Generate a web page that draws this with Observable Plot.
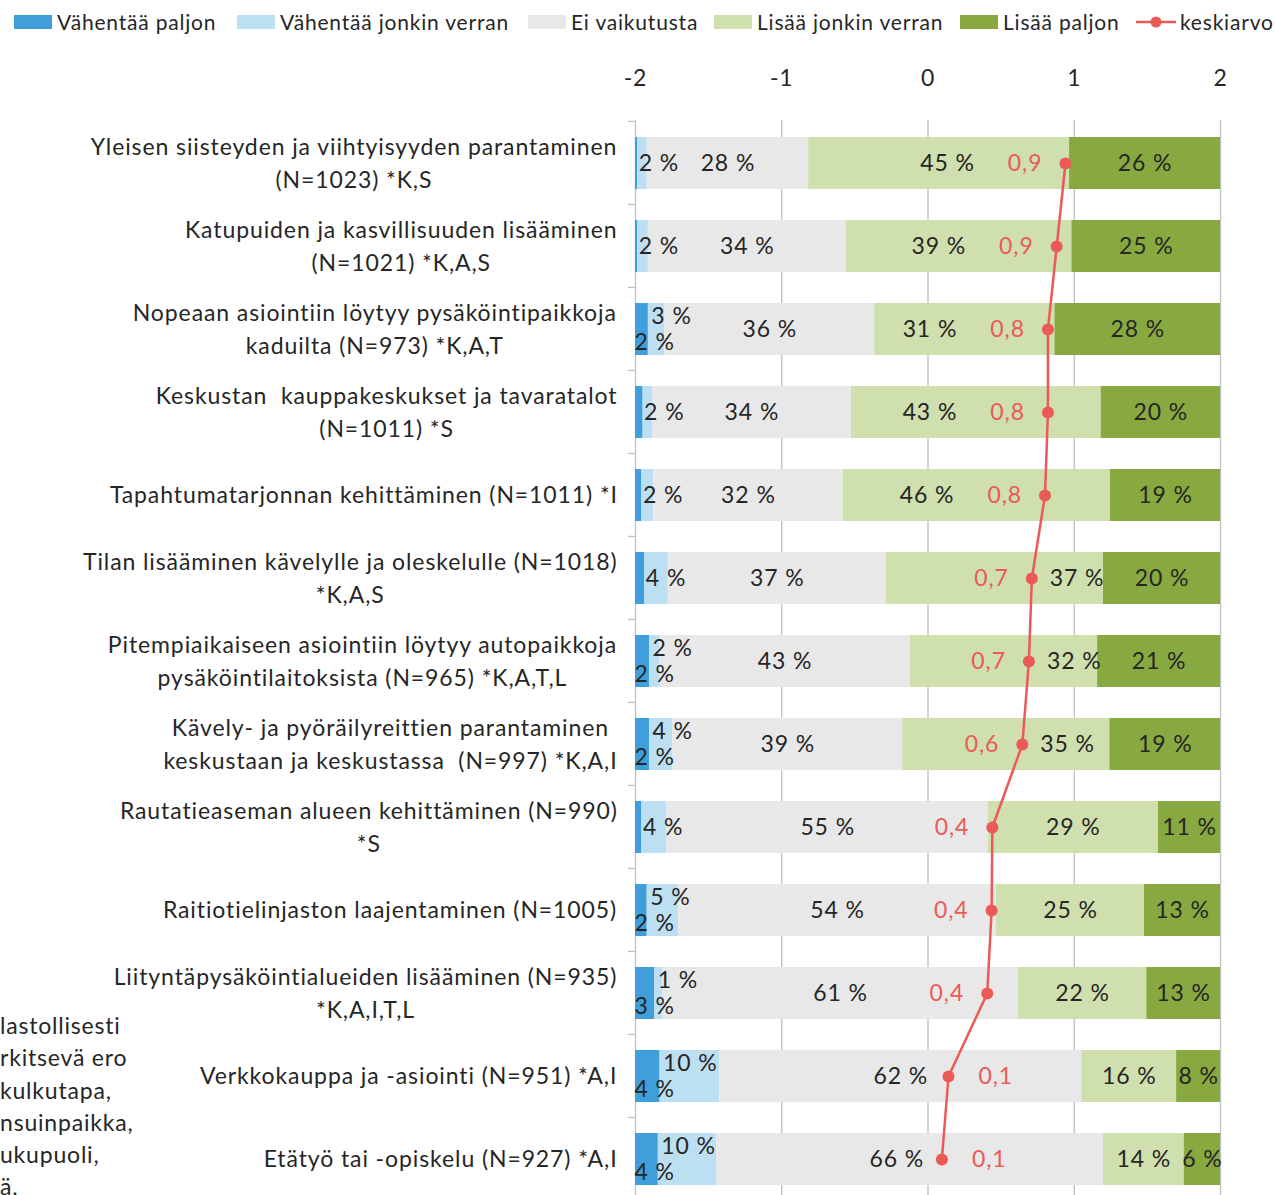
<!DOCTYPE html>
<html><head><meta charset="utf-8">
<script src="https://cdn.jsdelivr.net/npm/d3@7"></script>
<script src="https://cdn.jsdelivr.net/npm/@observablehq/plot@0.6"></script>
<style>
html,body{margin:0;padding:0;background:#fff;overflow:hidden;width:1276px;height:1195px;}
body{font-family:Lato,"Open Sans",sans-serif;color:#262626;position:relative;}
#legend{height:45px;position:relative;}
.item{position:absolute;top:10px;font-size:21px;letter-spacing:0.8px;line-height:24px;white-space:nowrap;display:flex;align-items:center;}
.sw{display:inline-block;width:38px;height:14px;margin-right:5px;}
#chart svg{display:block;}
#side{position:absolute;left:0px;top:1009px;font-size:23px;letter-spacing:0.8px;line-height:32.3px;white-space:nowrap;}
</style></head><body>
<div id="legend"></div>
<div id="chart"></div>
<div id="side"></div>
<script>
const categories = [
  "Yleisen siisteyden ja viihtyisyyden parantaminen\n(N=1023) *K,S",
  "Katupuiden ja kasvillisuuden lisääminen\n(N=1021) *K,A,S",
  "Nopeaan asiointiin löytyy pysäköintipaikkoja\nkaduilta (N=973) *K,A,T",
  "Keskustan  kauppakeskukset ja tavaratalot\n(N=1011) *S",
  "Tapahtumatarjonnan kehittäminen (N=1011) *I",
  "Tilan lisääminen kävelylle ja oleskelulle (N=1018)\n*K,A,S",
  "Pitempiaikaiseen asiointiin löytyy autopaikkoja\npysäköintilaitoksista (N=965) *K,A,T,L",
  "Kävely- ja pyöräilyreittien parantaminen\nkeskustaan ja keskustassa  (N=997) *K,A,I",
  "Rautatieaseman alueen kehittäminen (N=990)\n*S",
  "Raitiotielinjaston laajentaminen (N=1005)",
  "Liityntäpysäköintialueiden lisääminen (N=935)\n*K,A,I,T,L",
  "Verkkokauppa ja -asiointi (N=951) *A,I",
  "Etätyö tai -opiskelu (N=927) *A,I"
];
const seriesNames = ["Vähentää paljon", "Vähentää jonkin verran", "Ei vaikutusta", "Lisää jonkin verran", "Lisää paljon"];
const seriesColors = ["#3F9FDB", "#BDDFF2", "#E8E8E8", "#CFDFAD", "#87A93F"];
const vahentaaPaljon  = [0.4, 0.4, 2.2, 1.3, 1.1, 1.6, 2.4, 2.4, 1.1, 2.0, 3.3, 4.2, 3.9];
const vahentaaJonkin  = [1.6, 1.8, 2.8, 1.6, 2.0, 4.0, 1.7, 4.0, 4.3, 5.4, 1.4, 10.2, 10.0];
const eiVaikutusta    = [27.6, 33.8, 35.9, 34.0, 32.4, 37.3, 42.9, 39.3, 54.9, 54.3, 60.7, 61.9, 66.1];
const lisaaJonkin     = [44.6, 38.6, 30.8, 42.7, 45.7, 37.1, 32.0, 35.4, 29.1, 25.3, 22.0, 16.2, 13.8];
const lisaaPaljon     = [25.8, 25.4, 28.3, 20.4, 18.8, 20.0, 21.0, 18.9, 10.6, 13.0, 12.6, 7.5, 6.2];
const keskiarvo       = [0.94, 0.88, 0.82, 0.82, 0.80, 0.71, 0.69, 0.645, 0.44, 0.435, 0.405, 0.14, 0.095];
const meanName = "keskiarvo";
const xTicks = [-2, -1, 0, 1, 2];
const sideText = ["lastollisesti", "rkitsevä ero", "kulkutapa,", "nsuinpaikka,", "ukupuoli,", "ä,"];

const seriesValues = [vahentaaPaljon, vahentaaJonkin, eiVaikutusta, lisaaJonkin, lisaaPaljon];
const RED = "#EB5A57";
const FONT = "Lato";
const FS = 23;
const LS = 0.9;

// legend
const legendPos = [14, 237, 528, 714, 960];
const legend = document.getElementById("legend");
seriesNames.forEach((n, i) => {
  const d = document.createElement("div");
  d.className = "item"; d.style.left = legendPos[i] + "px";
  d.innerHTML = `<span class="sw" style="background:${seriesColors[i]}"></span>${n}`;
  legend.appendChild(d);
});
{
  const d = document.createElement("div");
  d.className = "item"; d.style.left = "1136px";
  d.innerHTML = `<svg width="40" height="14" style="margin-right:4px"><line x1="0" x2="40" y1="7" y2="7" stroke="${RED}" stroke-width="2.5"/><circle cx="20" cy="7" r="5.5" fill="${RED}"/></svg>${meanName}`;
  legend.appendChild(d);
}
document.getElementById("side").innerHTML = sideText.join("<br>");

// geometry
const W = 1276, H = 1157, mL = 635, mR = 56, mT = 75, mB = 0;
const unitsPerPx = 4 / (W - mL - mR);

// segments and their labels
const segs = [];
const labelsMid = [], labelsVJsingle = [], labelsVJup = [], labelsVPlow = [], labelsLJright = [];
const pct = v => Math.round(v) + " %";
categories.forEach((cat, i) => {
  let c = 0;
  const bounds = [];
  seriesValues.forEach((vals, s) => {
    const v = vals[i];
    const x1 = -2 + c * 0.04, x2 = -2 + (c + v) * 0.04;
    segs.push({cat, series: seriesNames[s], x1, x2});
    bounds.push([x1, x2, v]);
    c += v;
  });
  const m = keskiarvo[i];
  const [vp, vj, ei, lj, lp] = bounds;
  if (vp[2] >= 2) {
    labelsVPlow.push({cat, x: vp[0], t: pct(vp[2])});
    labelsVJup.push({cat, x: vj[0], t: pct(vj[2])});
  } else {
    labelsVJsingle.push({cat, x: vj[0], t: pct(vj[2])});
  }
  // "Ei vaikutusta" label: centred, nudged left if it would sit on the mean dot
  let eiX = (ei[0] + ei[1]) / 2;
  if (Math.abs(eiX - m) / unitsPerPx < 45) eiX = m - 45 * unitsPerPx;
  labelsMid.push({cat, x: eiX, t: pct(ei[2])});
  labelsMid.push({cat, x: (lp[0] + lp[1]) / 2, t: pct(lp[2])});
  if (m >= lj[0] + 40 * unitsPerPx && m <= lj[1]) {
    const leftSpace = (m - lj[0]) / unitsPerPx;
    if (leftSpace < 160) labelsLJright.push({cat, x: m, t: pct(lj[2])});
    else labelsMid.push({cat, x: m - 118 * unitsPerPx, t: pct(lj[2])});
  } else {
    labelsMid.push({cat, x: (lj[0] + lj[1]) / 2, t: pct(lj[2])});
  }
});
const means = categories.map((cat, i) => ({cat, m: keskiarvo[i], t: (Math.round(keskiarvo[i] * 10) / 10).toFixed(1).replace(".", ",")}));

// category label placement (block right-aligned at the axis, lines centred)
const ctx = document.createElement("canvas").getContext("2d");
ctx.font = `${FS}px ${FONT}`;
const catLabels = categories.map(cat => {
  const w = Math.max(...cat.split("\n").map(l => ctx.measureText(l).width + l.length * LS));
  const centerPx = 617 - w / 2;
  return {cat, x: -2 + (centerPx - mL) * unitsPerPx};
});

const txt = {y: "cat", text: "t", fontSize: FS, fill: "#262626"};
const plot = Plot.plot({
  width: W, height: H, marginLeft: mL, marginRight: mR, marginTop: mT, marginBottom: mB,
  style: {fontFamily: FONT, fontSize: FS + "px", letterSpacing: LS + "px", color: "#262626", background: "white", overflow: "visible"},
  x: {domain: [-2, 2], axis: "top", ticks: xTicks, tickSize: 0, tickPadding: 35, tickFormat: d => String(d), label: null},
  y: {type: "band", domain: categories, paddingInner: 0.375, paddingOuter: 0.1875, axis: null},
  color: {domain: seriesNames, range: seriesColors},
  marks: [
    Plot.ruleX(xTicks, {stroke: "#BFBFBF", strokeWidth: 1.3}),
    Plot.barX(segs, {x1: "x1", x2: "x2", y: "cat", fill: "series", inset: 0}),
    Plot.text(labelsMid, {...txt, x: "x", textAnchor: "middle"}),
    Plot.text(labelsVJsingle, {...txt, x: "x", textAnchor: "start", dx: 1}),
    Plot.text(labelsVJup, {...txt, x: "x", textAnchor: "start", dx: 3, dy: -13}),
    Plot.text(labelsVPlow, {...txt, x: "x", textAnchor: "start", dx: -1, dy: 13}),
    Plot.text(labelsLJright, {...txt, x: "x", textAnchor: "start", dx: 18}),
    Plot.line(means, {x: "m", y: "cat", stroke: RED, strokeWidth: 2.5}),
    Plot.dot(means, {x: "m", y: "cat", r: 6, fill: RED, stroke: "none"}),
    Plot.text(means.filter(d => d.m >= 0.3), {x: "m", y: "cat", text: "t", fill: RED, fontSize: FS, textAnchor: "end", dx: -23}),
    Plot.text(means.filter(d => d.m < 0.3), {x: "m", y: "cat", text: "t", fill: RED, fontSize: FS, textAnchor: "start", dx: 30}),
    Plot.text(catLabels, {x: "x", y: "cat", text: "cat", textAnchor: "middle", lineAnchor: "middle", lineHeight: 33 / FS, fontSize: FS, fill: "#262626", dy: -3})
  ]
});

// small outside ticks at category boundaries on the left axis
const ys = plot.scale("y");
const svg = d3.select(plot);
const step = ys.step !== undefined ? ys.step : (H - mT - mB) / categories.length;
const g = svg.append("g").attr("stroke", "#BFBFBF").attr("stroke-width", 1.3);
const y0 = ys.apply(categories[0]) - step * 0.1875;
for (let k = 0; k <= categories.length; k++) {
  const yy = y0 + k * step;
  g.append("line").attr("x1", mL - 7).attr("x2", mL).attr("y1", yy).attr("y2", yy);
}
document.getElementById("chart").appendChild(plot);
</script>
</body></html>
